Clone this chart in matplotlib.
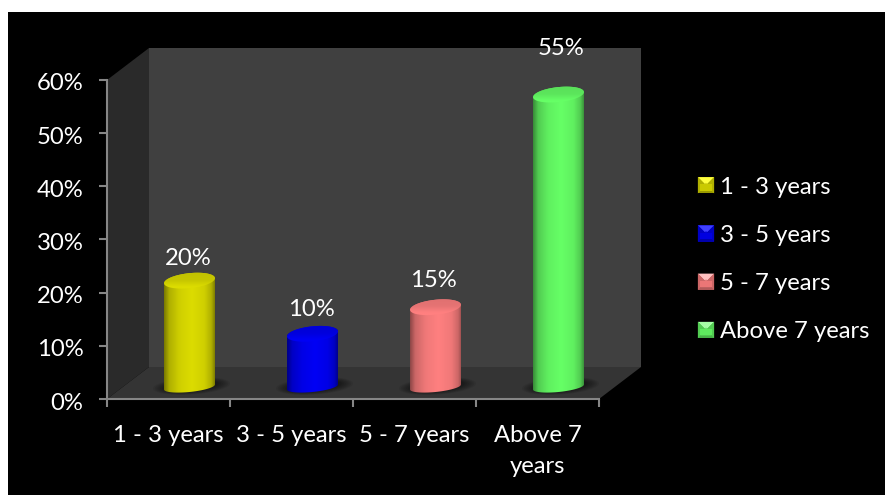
import numpy as np
import matplotlib
matplotlib.use("Agg")
import matplotlib.pyplot as plt
from matplotlib.path import Path
from matplotlib.patches import Polygon, Rectangle, Patch
from matplotlib.legend_handler import HandlerBase
from matplotlib.colors import to_rgb
from matplotlib.ticker import PercentFormatter
from matplotlib.transforms import ScaledTranslation

plt.rcParams['font.family'] = ['Lato', 'DejaVu Sans']

categories = ['1 - 3 years', '3 - 5 years', '5 - 7 years', 'Above 7\nyears']
series_names = ['1 - 3 years', '3 - 5 years', '5 - 7 years', 'Above 7 years']
values = [20, 10, 15, 55]
y_ticks = [0, 10, 20, 30, 40, 50, 60]

colors = ['#DCDC00', '#0000F5', '#FF8080', '#66FF66']
label_offsets_px = [(-1, 22), (-1, 24), (-2, 27), (3, 46)]
FS = 17.2

W, H = 885, 495
fig = plt.figure(figsize=(W / 100, H / 100), dpi=100, facecolor='white')
fig.patches.append(Rectangle((8 / W, 0), 1, 1 - 12 / H, transform=fig.transFigure,
                             facecolor='black', edgecolor='none', zorder=-10))
ax = fig.add_axes([107 / W, (H - 399) / H, 492 / W, 319 / H])
ax.patch.set_visible(False)
ax.set_xlim(0, 4)
ax.set_ylim(0, 60)
PX, PY = 4 / 492, 60 / 319
DX, DY = 42 * PX, 32 * PY

# 3-D box
ax.add_patch(Polygon([(DX, DY), (4 + DX, DY), (4 + DX, 60 + DY), (DX, 60 + DY)],
                     closed=True, fc='#404040', ec='none', clip_on=False, zorder=1))
ax.add_patch(Polygon([(0, 0), (DX, DY), (DX, 60 + DY), (0, 60)],
                     closed=True, fc='#2A2A2A', ec='none', clip_on=False, zorder=1))
ax.add_patch(Polygon([(0, 0), (4, 0), (4 + DX, DY), (DX, DY)],
                     closed=True, fc='#343434', ec='none', clip_on=False, zorder=1))


def ring(cx, cy, a, b, tilt, t):
    return np.column_stack([cx + a * PX * np.cos(t),
                            cy + (b * np.sin(t) + tilt * np.cos(t)) * PY])


def shade(color, stops_pos, stops_val):
    s = np.interp(np.linspace(0, 1, 128), stops_pos, stops_val)
    return np.clip(np.outer(s, to_rgb(color)), 0, 1)


A, TILT = 25.5, 2.5
BASE = 12 * PY
for i, (v, c) in enumerate(zip(values, colors)):
    cx = i + 0.5 + DX / 2
    top = BASE + v
    # shadow on the floor
    for k in range(8):
        t = np.linspace(0, 2 * np.pi, 80)
        ax.add_patch(Polygon(ring(cx + 2 * PX, BASE + PY, A + 13 - k * 1.8, 8.5 - k * 0.5, TILT, t),
                             closed=True, fc='black', ec='none', alpha=0.07,
                             zorder=2, clip_on=False))
    # body
    t_low = np.linspace(np.pi, 2 * np.pi, 60)
    t_up = np.linspace(0, np.pi, 60)
    outline = np.vstack([ring(cx, BASE, A, 5, TILT, t_low), ring(cx, top, A, 7.5, TILT, t_up)])
    img = shade(c, [0, .1, .3, .55, .8, .93, 1], [.55, .8, .94, 1, .94, .8, .58])
    x0, x1 = cx - A * PX, cx + A * PX
    im = ax.imshow(img[np.newaxis, :, :], extent=(x0, x1, BASE - 9 * PY, top + 9 * PY),
                   aspect='auto', zorder=3, interpolation='bilinear', clip_on=True)
    im.set_clip_path(Path(np.vstack([outline, outline[:1]])), ax.transData)
    # lid
    t = np.linspace(0, 2 * np.pi, 120)
    lid = ring(cx, top, A, 7.5, TILT, t)
    limg = shade(c, [0, .45, .8, 1], [.88, .9, 1.0, 1.0])
    im2 = ax.imshow(limg[:, np.newaxis, :],
                    extent=(x0, x1, top - 9 * PY, top + 9 * PY), origin='upper',
                    aspect='auto', zorder=4, interpolation='bilinear')
    im2.set_clip_path(Path(np.vstack([lid, lid[:1]])), ax.transData)
    # value label
    dx, dy = label_offsets_px[i]
    ax.annotate(f'{v}%', (cx, top), xytext=(dx * 0.72, dy * 0.72),
                textcoords='offset points', ha='center', va='center', color='white',
                fontsize=FS, zorder=6, annotation_clip=False)

ax.set_xlim(0, 4)
ax.set_ylim(0, 60)

# axes
for s in ('top', 'right'):
    ax.spines[s].set_visible(False)
for s in ('left', 'bottom'):
    ax.spines[s].set_color('#868686')
    ax.spines[s].set_linewidth(1.5)
    ax.spines[s].set_zorder(5)
ax.set_yticks(y_ticks)
ax.yaxis.set_major_formatter(PercentFormatter(100, decimals=0))
ax.set_xticks(range(5))
ax.set_xticklabels([])
ax.set_xticks(np.arange(len(categories)) + 0.5, minor=True)
ax.set_xticklabels(categories, minor=True, linespacing=1.55)
ax.tick_params(axis='both', which='major', color='#868686', width=1.5, length=6, labelcolor='white')
ax.tick_params(axis='y', labelsize=FS, pad=11)
ax.tick_params(axis='x', which='minor', length=0, labelsize=FS, labelcolor='white', pad=19)
shift = ScaledTranslation(0, -2 / 100, fig.dpi_scale_trans)
for lab in ax.get_yticklabels():
    lab.set_transform(lab.get_transform() + shift)


class Bevel(HandlerBase):
    def create_artists(self, legend, orig, xd, yd, w, h, fontsize, trans):
        c = np.array(to_rgb(orig.get_facecolor()))
        s = h
        x, y = (w - s) / 2, -yd
        m = s * 0.5
        b = s * 0.16
        o = [(x, y), (x + s, y), (x + s, y + s), (x, y + s)]
        i = [(x + b, y + b), (x + s - b, y + b), (x + s - b, y + s - b), (x + b, y + s - b)]
        arts = [Polygon(o, closed=True, fc=c * 0.7, ec='none', transform=trans)]
        arts.append(Polygon([o[3], o[2], (x + m, y + m)], closed=True,
                            fc=np.clip(c * 1.0 + 0.25, 0, 1), ec='none', transform=trans))
        arts.append(Polygon(i[:2] + [(x + m, y + m + b)], closed=True, fc=c * 0.88, ec='none', transform=trans))
        arts.append(Polygon([o[0], o[3], (x + m, y + m)], closed=True, fc=c * 0.8, ec='none', transform=trans))
        arts.append(Polygon([o[1], o[2], (x + m, y + m)], closed=True, fc=c * 0.8, ec='none', transform=trans))
        arts.append(Polygon([(x + b, y + s * .55), (x + s - b, y + s * .55), (x + s - b, y + b), (x + b, y + b)],
                            closed=True, fc=c * 0.92, ec='none', transform=trans))
        return arts


handles = [Patch(facecolor=c, label=n) for c, n in zip(colors, series_names)]
leg = fig.legend(handles=handles, loc='center left', bbox_to_anchor=(698 / W, (H - 259.5) / H),
                 frameon=False, fontsize=FS, labelcolor='white', borderpad=0, borderaxespad=0,
                 handlelength=0.67, handleheight=0.67, handletextpad=0.27, labelspacing=1.14,
                 handler_map={Patch: Bevel()})

fig.savefig('out.png', dpi=100, facecolor=fig.get_facecolor())
